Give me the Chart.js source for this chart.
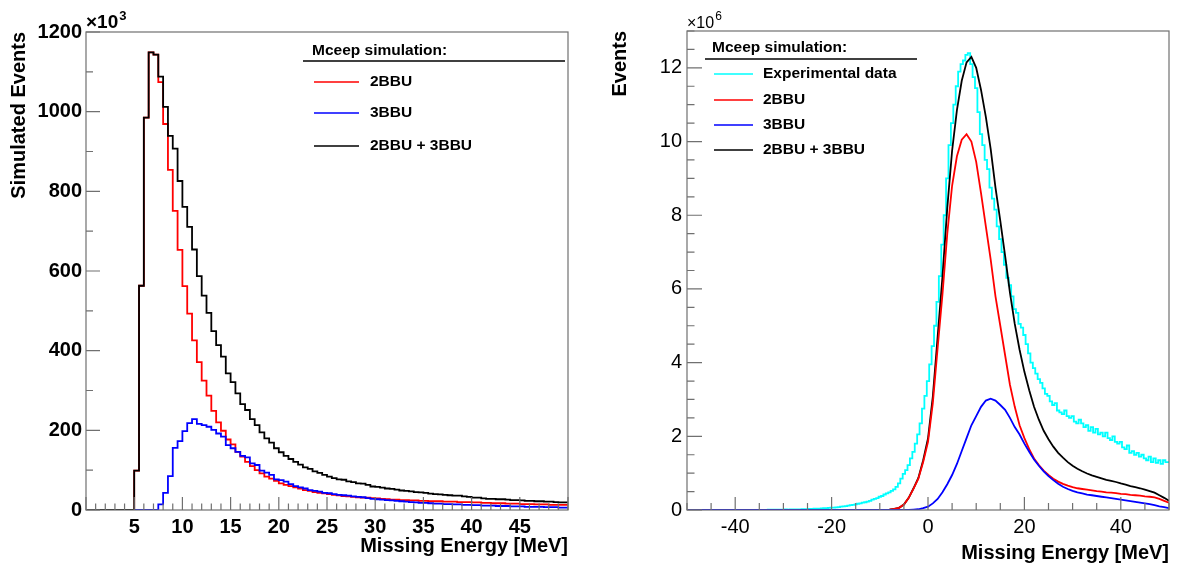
<!DOCTYPE html>
<html>
<head>
<meta charset="utf-8">
<script src="https://cdn.jsdelivr.net/npm/chart.js@4.4.1/dist/chart.umd.min.js"></script>
<style>
  html, body { margin: 0; padding: 0; background: #fff; }
  #wrap { position: relative; width: 1182px; height: 566px; }
  canvas { position: absolute; top: 0; }
  #left { left: 0; }
  #right { left: 591px; }
</style>
</head>
<body>
<div id="wrap">
  <canvas id="left" width="591" height="566"></canvas>
  <canvas id="right" width="591" height="566"></canvas>
</div>
<script>
const FONT = '"Liberation Sans", Arial, Helvetica, sans-serif';

// ---- left panel: simulated events (x10^3), 0.5 MeV bins from 0 to 50 MeV
const leftStart = 0;
const leftBinWidth = 0.5;
const left2BBU = [
  0, 0, 0, 0, 0, 0, 0, 0, 0, 0,
  99, 563, 985, 1149, 1143, 1074, 969, 854, 751, 653,
  562, 493, 426, 371, 325, 287, 249, 220, 199, 177,
  165, 146, 134, 121, 110, 100, 92, 84, 79, 73,
  67, 63, 60, 57, 54, 50, 48, 45, 43, 42,
  40, 38, 37, 35, 34, 33, 32, 31, 31, 30,
  29, 28, 27, 26, 26, 25, 25, 24, 24, 23,
  23, 22, 22, 22, 21, 21, 21, 20, 20, 20,
  19, 19, 18, 18, 17, 17, 17, 16, 16, 16,
  15, 15, 15, 14, 14, 14, 13, 13, 13, 13
];
const left3BBU = [
  0, 0, 0, 0, 0, 0, 0, 0, 0, 0,
  0, 0, 0, 0, 0, 14, 43, 85, 156, 173,
  198, 218, 228, 216, 213, 209, 201, 192, 184, 163,
  155, 146, 136, 132, 117, 113, 99, 94, 88, 77,
  75, 71, 65, 60, 57, 54, 50, 48, 46, 43,
  42, 40, 38, 37, 36, 34, 33, 32, 30, 28,
  27, 26, 25, 24, 23, 22, 21, 20, 19, 18,
  18, 17, 16, 16, 15, 15, 14, 14, 13, 13,
  12, 12, 11, 11, 11, 10, 10, 10, 9, 9,
  9, 8, 8, 8, 8, 7, 7, 7, 6, 6
];
const leftSum = [
  0, 0, 0, 0, 0, 0, 0, 0, 0, 0,
  99, 563, 985, 1149, 1143, 1088, 1012, 939, 907, 826,
  761, 711, 654, 587, 538, 495, 449, 414, 385, 343,
  321, 293, 266, 251, 228, 213, 195, 180, 169, 155,
  145, 136, 128, 121, 114, 107, 103, 97, 93, 88,
  84, 80, 77, 76, 72, 70, 67, 66, 63, 59,
  58, 56, 54, 53, 51, 49, 48, 47, 45, 44,
  43, 41, 40, 39, 38, 37, 36, 36, 34, 33,
  31, 31, 29, 28, 28, 27, 27, 26, 25, 25,
  24, 23, 23, 22, 22, 21, 21, 20, 19, 19
];
const leftXTicks = [5, 10, 15, 20, 25, 30, 35, 40, 45];
const leftYTicks = [0, 200, 400, 600, 800, 1000, 1200];

// ---- right panel: events (x10^6)
// experimental data, read every 0.5 MeV from -50 to 50 MeV
const expStart = -50;
const expStep = 0.5;
const rightExp = [
  0, 0, 0, 0, 0, 0, 0, 0, 0, 0,
  0, 0, 0, 0, 0, 0, 0, 0, 0, 0,
  0, 0, 0, 0, 0, 0, 0, 0, 0, 0,
  0.005, 0.004, 0.006, 0.005, 0.008, 0.007, 0.009, 0.008, 0.01, 0.012,
  0.011, 0.013, 0.012, 0.015, 0.014, 0.017, 0.019, 0.018, 0.022, 0.024,
  0.026, 0.03, 0.028, 0.035, 0.04, 0.038, 0.045, 0.05, 0.048, 0.058,
  0.065, 0.062, 0.072, 0.08, 0.09, 0.1, 0.105, 0.12, 0.13, 0.14,
  0.15, 0.17, 0.18, 0.2, 0.21, 0.23, 0.25, 0.28, 0.3, 0.32,
  0.36, 0.38, 0.42, 0.45, 0.48, 0.52, 0.56, 0.63, 0.72, 0.85,
  0.98, 1.08, 1.22, 1.4, 1.58, 1.8, 2.05, 2.35, 2.75, 3.1,
  3.5, 3.95, 4.45, 5.0, 5.65, 6.35, 7.2, 8.0, 9.0, 9.9,
  10.5, 11.0, 11.5, 11.9, 12.1, 12.2, 12.35, 12.4, 12.1, 11.75,
  11.45, 10.8, 10.2, 9.9, 9.5, 9.25, 8.75, 8.45, 8.15, 7.7,
  7.35, 7.0, 6.65, 6.3, 6.1, 5.8, 5.45, 5.35, 5.05, 4.95,
  4.75, 4.5, 4.25, 4.0, 3.85, 3.7, 3.55, 3.45, 3.3, 3.15,
  3.1, 2.95, 2.85, 2.9, 2.7, 2.65, 2.6, 2.7, 2.55, 2.5,
  2.55, 2.4, 2.35, 2.45, 2.35, 2.25, 2.3, 2.15, 2.25, 2.1,
  2.2, 2.05, 2.1, 2.0, 2.1, 1.95, 1.9, 2.0, 1.85, 1.8,
  1.85, 1.7, 1.65, 1.75, 1.55, 1.6, 1.5, 1.55, 1.45, 1.5,
  1.4, 1.35, 1.45, 1.3, 1.4, 1.28, 1.35, 1.25, 1.35, 1.3,
  1.3
];
// simulations, read every 1 MeV from -50 to 50 MeV
const simStart = -50;
const simStep = 1;
const right2BBU = [
  0, 0, 0, 0, 0, 0, 0, 0, 0, 0, 0, 0, 0, 0, 0, 0, 0, 0, 0, 0, 0,
  0, 0, 0, 0, 0, 0, 0, 0, 0, 0, 0, 0, 0, 0, 0, 0, 0, 0, 0, 0, 0,
  0.01, 0.03, 0.06, 0.15, 0.33, 0.58, 0.85, 1.3, 1.85, 2.9,
  4.4, 5.85, 7.5, 8.8, 9.6, 10.05, 10.2, 10.0, 9.45, 8.6,
  7.7, 6.8, 5.8, 5.0, 4.2, 3.4, 2.8, 2.3, 1.95, 1.65,
  1.4, 1.22, 1.07, 0.95, 0.85, 0.77, 0.71, 0.66, 0.62, 0.59,
  0.57, 0.55, 0.53, 0.51, 0.5, 0.48, 0.47, 0.46, 0.44, 0.43,
  0.41, 0.4, 0.39, 0.37, 0.36, 0.34, 0.3, 0.25, 0.2
];
const right3BBU = [
  0, 0, 0, 0, 0, 0, 0, 0, 0, 0, 0, 0, 0, 0, 0, 0, 0, 0, 0, 0, 0, 0, 0, 0,
  0, 0, 0, 0, 0, 0, 0, 0, 0, 0, 0, 0, 0, 0, 0, 0, 0, 0, 0, 0, 0, 0, 0,
  0.01, 0.02, 0.05, 0.09, 0.18, 0.3, 0.48, 0.7, 0.95, 1.25,
  1.6, 1.95, 2.3, 2.55, 2.8, 2.97, 3.02, 2.97, 2.85, 2.72,
  2.5, 2.25, 2.05, 1.8, 1.58, 1.37, 1.2, 1.05, 0.92, 0.81,
  0.71, 0.63, 0.57, 0.52, 0.48, 0.45, 0.42, 0.4, 0.38, 0.36,
  0.34, 0.32, 0.3, 0.28, 0.26, 0.24, 0.22, 0.2, 0.18, 0.16,
  0.13, 0.1, 0.08, 0.05
];
const rightSum = [
  0, 0, 0, 0, 0, 0, 0, 0, 0, 0, 0, 0, 0, 0, 0, 0, 0, 0, 0, 0, 0,
  0, 0, 0, 0, 0, 0, 0, 0, 0, 0, 0, 0, 0, 0, 0, 0, 0, 0, 0, 0, 0,
  0.01, 0.03, 0.06, 0.15, 0.33, 0.59, 0.87, 1.35, 1.94, 3.08,
  4.7, 6.33, 8.2, 9.75, 10.85, 11.65, 12.15, 12.3, 12.0, 11.4,
  10.67, 9.8, 8.75, 7.85, 6.9, 5.9, 5.05, 4.35, 3.75, 3.25,
  2.8, 2.45, 2.15, 1.92, 1.72, 1.55, 1.42, 1.3, 1.2, 1.12,
  1.05, 0.99, 0.94, 0.9, 0.86, 0.82, 0.79, 0.76, 0.72, 0.69,
  0.65, 0.62, 0.59, 0.55, 0.51, 0.47, 0.4, 0.33, 0.25
];
const rightXTicks = [-40, -20, 0, 20, 40];
const rightYTicks = [0, 2, 4, 6, 8, 10, 12];

// histogram bins -> points for a 'before' stepped line (last bin closed at its upper edge)
function histPoints(start, width, values) {
  const pts = values.map((v, i) => ({ x: start + i * width, y: v }));
  pts.push({ x: start + values.length * width, y: values[values.length - 1] });
  return pts;
}
function curvePoints(start, step, values) {
  return values.map((v, i) => ({ x: start + i * step, y: v }));
}

// ROOT style frame, inward ticks, exponent and legend box
function rootStyle(cfg) {
  return {
    id: 'rootStyle',
    afterDatasetsDraw(chart) {
      const { ctx, chartArea: a, scales: { x, y } } = chart;
      ctx.save();
      ctx.strokeStyle = '#707070';
      ctx.lineWidth = 1.2;
      ctx.beginPath();
      for (let v = cfg.xMin; v <= cfg.xMax + 1e-9; v += cfg.xMinor) {
        const px = x.getPixelForValue(v);
        const major = Math.abs(v / cfg.xMajor - Math.round(v / cfg.xMajor)) < 1e-6;
        ctx.moveTo(px, a.bottom);
        ctx.lineTo(px, a.bottom - (major ? cfg.xLen[0] : cfg.xLen[1]));
      }
      for (let v = cfg.yMin; v <= cfg.yMax + 1e-9; v += cfg.yMinor) {
        const py = y.getPixelForValue(v);
        const major = Math.abs(v / cfg.yMajor - Math.round(v / cfg.yMajor)) < 1e-6;
        ctx.moveTo(a.left, py);
        ctx.lineTo(a.left + (major ? cfg.yLen[0] : cfg.yLen[1]), py);
      }
      ctx.stroke();
      ctx.strokeRect(a.left, a.top, a.right - a.left, a.bottom - a.top);

      // exponent
      ctx.fillStyle = '#000';
      ctx.textBaseline = 'alphabetic';
      ctx.textAlign = 'left';
      ctx.font = cfg.expFont;
      ctx.fillText('\u00d710', a.left, cfg.expY);
      const w = ctx.measureText('\u00d710').width;
      ctx.font = cfg.supFont;
      ctx.fillText(cfg.exp, a.left + w + 1, cfg.supY);

      // legend
      const L = cfg.legend;
      ctx.font = 'bold 15.5px ' + FONT;
      ctx.textBaseline = 'middle';
      ctx.fillText('Mceep simulation:', L.headX, L.headY);
      ctx.strokeStyle = '#000';
      ctx.lineWidth = 1.5;
      ctx.beginPath();
      ctx.moveTo(L.ruleX[0], L.ruleY);
      ctx.lineTo(L.ruleX[1], L.ruleY);
      ctx.stroke();
      L.order.forEach((di, k) => {
        const ds = chart.data.datasets[di];
        const yy = L.rows[k];
        ctx.strokeStyle = ds.borderColor;
        ctx.lineWidth = 1.5;
        ctx.beginPath();
        ctx.moveTo(L.lineX[0], yy);
        ctx.lineTo(L.lineX[1], yy);
        ctx.stroke();
        ctx.fillText(ds.label, L.textX, yy);
      });
      ctx.restore();
    }
  };
}

function axisFont(weight) {
  return { family: FONT, size: 20, weight: weight };
}
const plain = v => String(v);

// ---------- left chart
new Chart(document.getElementById('left').getContext('2d'), {
  type: 'line',
  data: {
    datasets: [
      { label: '2BBU', data: histPoints(leftStart, leftBinWidth, left2BBU), borderColor: '#ff0000', order: 2 },
      { label: '3BBU', data: histPoints(leftStart, leftBinWidth, left3BBU), borderColor: '#0000ff', order: 1 },
      { label: '2BBU + 3BBU', data: histPoints(leftStart, leftBinWidth, leftSum), borderColor: '#000000', order: 0 }
    ]
  },
  options: {
    responsive: false,
    animation: false,
    events: [],
    parsing: false,
    elements: {
      line: { stepped: 'before', borderWidth: 1.8, tension: 0, fill: false },
      point: { radius: 0 }
    },
    layout: { padding: { left: 0, top: 32, right: 23, bottom: 0 } },
    plugins: { legend: { display: false }, tooltip: { enabled: false } },
    scales: {
      x: {
        type: 'linear', min: 0, max: 50,
        afterBuildTicks: s => { s.ticks = leftXTicks.map(v => ({ value: v })); },
        afterFit: s => { s.height = 56; },
        grid: { display: false, drawTicks: false },
        border: { display: false },
        ticks: { font: axisFont('bold'), color: '#000', padding: 5, maxRotation: 0, autoSkip: false, callback: plain },
        title: { display: true, text: 'Missing Energy [MeV]', align: 'end', color: '#000',
                 font: axisFont('bold'), padding: { top: 0, bottom: 8 } }
      },
      y: {
        type: 'linear', min: 0, max: 1200,
        afterBuildTicks: s => { s.ticks = leftYTicks.map(v => ({ value: v })); },
        afterFit: s => { s.width = 86; },
        grid: { display: false, drawTicks: false },
        border: { display: false },
        ticks: { font: axisFont('bold'), color: '#000', padding: 4, callback: plain },
        title: { display: true, text: 'Simulated Events', align: 'end', color: '#000',
                 font: axisFont('bold'), padding: { top: 7, bottom: 0 } }
      }
    }
  },
  plugins: [rootStyle({
    xMin: 0, xMax: 50, xMinor: 1, xMajor: 5, xLen: [13, 6.5],
    yMin: 0, yMax: 1200, yMinor: 100, yMajor: 200, yLen: [14, 7],
    exp: '3', expFont: 'bold 19px ' + FONT, expY: 28, supFont: 'bold 13px ' + FONT, supY: 20,
    legend: { headX: 312, headY: 51, ruleX: [303, 565], ruleY: 61,
              lineX: [314, 359], textX: 370, rows: [82, 113, 146], order: [0, 1, 2] }
  })]
});

// ---------- right chart
new Chart(document.getElementById('right').getContext('2d'), {
  type: 'line',
  data: {
    datasets: [
      { label: 'Experimental data', data: curvePoints(expStart, expStep, rightExp), borderColor: '#00ffff', stepped: 'middle', order: 3 },
      { label: '2BBU', data: curvePoints(simStart, simStep, right2BBU), borderColor: '#ff0000', order: 1 },
      { label: '3BBU', data: curvePoints(simStart, simStep, right3BBU), borderColor: '#0000ff', order: 0 },
      { label: '2BBU + 3BBU', data: curvePoints(simStart, simStep, rightSum), borderColor: '#000000', order: 2 }
    ]
  },
  options: {
    responsive: false,
    animation: false,
    events: [],
    parsing: false,
    elements: {
      line: { borderWidth: 1.8, tension: 0, fill: false },
      point: { radius: 0 }
    },
    layout: { padding: { left: 0, top: 31, right: 13, bottom: 0 } },
    plugins: { legend: { display: false }, tooltip: { enabled: false } },
    scales: {
      x: {
        type: 'linear', min: -50, max: 50,
        afterBuildTicks: s => { s.ticks = rightXTicks.map(v => ({ value: v })); },
        afterFit: s => { s.height = 56; },
        grid: { display: false, drawTicks: false },
        border: { display: false },
        ticks: { font: axisFont('normal'), color: '#000', padding: 5, maxRotation: 0, autoSkip: false, callback: plain },
        title: { display: true, text: 'Missing Energy [MeV]', align: 'end', color: '#000',
                 font: axisFont('bold'), padding: { top: 0, bottom: 1 } }
      },
      y: {
        type: 'linear', min: 0, max: 13,
        afterBuildTicks: s => { s.ticks = rightYTicks.map(v => ({ value: v })); },
        afterFit: s => { s.width = 96; },
        grid: { display: false, drawTicks: false },
        border: { display: false },
        ticks: { font: axisFont('normal'), color: '#000', padding: 5, callback: plain },
        title: { display: true, text: 'Events', align: 'end', color: '#000',
                 font: axisFont('bold'), padding: { top: 17, bottom: 0 } }
      }
    }
  },
  plugins: [rootStyle({
    xMin: -50, xMax: 50, xMinor: 5, xMajor: 20, xLen: [13, 7],
    yMin: 0, yMax: 13, yMinor: 0.5, yMajor: 2, yLen: [15, 7.5],
    exp: '6', expFont: '16px ' + FONT, expY: 28, supFont: '12px ' + FONT, supY: 20,
    legend: { headX: 121, headY: 48, ruleX: [114, 326], ruleY: 59,
              lineX: [123, 162], textX: 172, rows: [74, 100, 125, 150], order: [0, 1, 2, 3] }
  })]
});
</script>
</body>
</html>
